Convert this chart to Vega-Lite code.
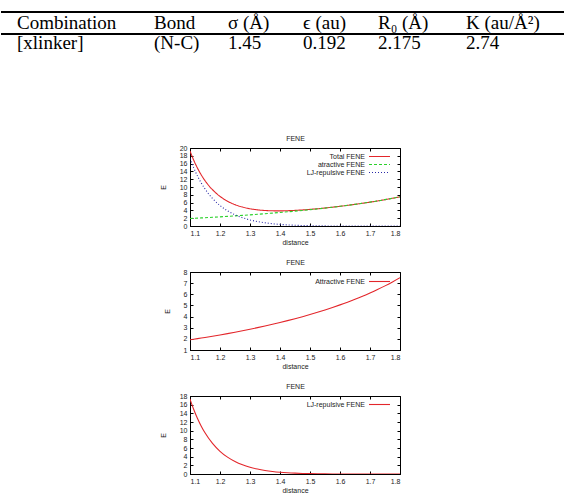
{
  "$schema": "https://vega.github.io/schema/vega-lite/v6.json",
  "padding": {"left": 0, "top": 11, "right": 0, "bottom": 0},
  "background": "white",
  "spacing": 12,
  "config": {
    "view": {"stroke": "black", "strokeWidth": 1},
    "axis": {"labelFont": "Liberation Sans", "titleFont": "Liberation Sans", "labelFontSize": 7, "titleFontSize": 7, "titleFontWeight": "normal", "labelColor": "#222", "titleColor": "#222", "domainColor": "black", "tickColor": "black", "grid": false, "minExtent": 0},
    "legend": {"labelFont": "Liberation Sans", "labelFontSize": 7, "labelColor": "#222"}
  },
  "datasets": {
    "table": [
      {"row": 0, "col": 0, "text": "Combination"},
      {"row": 0, "col": 1, "text": "Bond"},
      {"row": 0, "col": 2, "text": "σ (Å)"},
      {"row": 0, "col": 3, "text": "ϵ (au)"},
      {"row": 0, "col": 4, "text": "R₀ (Å)"},
      {"row": 0, "col": 5, "text": "K (au/Å²)"},
      {"row": 1, "col": 0, "text": "[xlinker]"},
      {"row": 1, "col": 1, "text": "(N-C)"},
      {"row": 1, "col": 2, "text": "1.45"},
      {"row": 1, "col": 3, "text": "0.192"},
      {"row": 1, "col": 4, "text": "2.175"},
      {"row": 1, "col": 5, "text": "2.74"}
    ],
    "fene": [
      {"r": 1.1, "Total FENE": 19.22, "atractive FENE": 1.915, "LJ-repulsive FENE": 17.30},
      {"r": 1.1125, "Total FENE": 16.85, "atractive FENE": 1.966, "LJ-repulsive FENE": 14.885},
      {"r": 1.125, "Total FENE": 14.83, "atractive FENE": 2.018, "LJ-repulsive FENE": 12.81},
      {"r": 1.1375, "Total FENE": 13.105, "atractive FENE": 2.071, "LJ-repulsive FENE": 11.034},
      {"r": 1.15, "Total FENE": 11.63, "atractive FENE": 2.125, "LJ-repulsive FENE": 9.506},
      {"r": 1.175, "Total FENE": 9.296, "atractive FENE": 2.237, "LJ-repulsive FENE": 7.059},
      {"r": 1.2, "Total FENE": 7.594, "atractive FENE": 2.352, "LJ-repulsive FENE": 5.242},
      {"r": 1.225, "Total FENE": 6.362, "atractive FENE": 2.473, "LJ-repulsive FENE": 3.889},
      {"r": 1.25, "Total FENE": 5.478, "atractive FENE": 2.598, "LJ-repulsive FENE": 2.880},
      {"r": 1.275, "Total FENE": 4.854, "atractive FENE": 2.729, "LJ-repulsive FENE": 2.125},
      {"r": 1.3, "Total FENE": 4.426, "atractive FENE": 2.865, "LJ-repulsive FENE": 1.561},
      {"r": 1.325, "Total FENE": 4.145, "atractive FENE": 3.006, "LJ-repulsive FENE": 1.139},
      {"r": 1.35, "Total FENE": 3.976, "atractive FENE": 3.153, "LJ-repulsive FENE": 0.823},
      {"r": 1.375, "Total FENE": 3.895, "atractive FENE": 3.307, "LJ-repulsive FENE": 0.588},
      {"r": 1.4, "Total FENE": 3.881, "atractive FENE": 3.467, "LJ-repulsive FENE": 0.414},
      {"r": 1.425, "Total FENE": 3.921, "atractive FENE": 3.635, "LJ-repulsive FENE": 0.286},
      {"r": 1.45, "Total FENE": 4.001, "atractive FENE": 3.809, "LJ-repulsive FENE": 0.192},
      {"r": 1.475, "Total FENE": 4.117, "atractive FENE": 3.992, "LJ-repulsive FENE": 0.124},
      {"r": 1.5, "Total FENE": 4.260, "atractive FENE": 4.184, "LJ-repulsive FENE": 0.077},
      {"r": 1.525, "Total FENE": 4.428, "atractive FENE": 4.384, "LJ-repulsive FENE": 0.044},
      {"r": 1.55, "Total FENE": 4.617, "atractive FENE": 4.595, "LJ-repulsive FENE": 0.022},
      {"r": 1.575, "Total FENE": 4.825, "atractive FENE": 4.816, "LJ-repulsive FENE": 0.009},
      {"r": 1.6, "Total FENE": 5.051, "atractive FENE": 5.049, "LJ-repulsive FENE": 0.002},
      {"r": 1.625, "Total FENE": 5.294, "atractive FENE": 5.294, "LJ-repulsive FENE": 0},
      {"r": 1.65, "Total FENE": 5.553, "atractive FENE": 5.553, "LJ-repulsive FENE": 0},
      {"r": 1.675, "Total FENE": 5.827, "atractive FENE": 5.827, "LJ-repulsive FENE": 0},
      {"r": 1.7, "Total FENE": 6.118, "atractive FENE": 6.118, "LJ-repulsive FENE": 0},
      {"r": 1.725, "Total FENE": 6.426, "atractive FENE": 6.426, "LJ-repulsive FENE": 0},
      {"r": 1.75, "Total FENE": 6.755, "atractive FENE": 6.755, "LJ-repulsive FENE": 0},
      {"r": 1.775, "Total FENE": 7.107, "atractive FENE": 7.107, "LJ-repulsive FENE": 0},
      {"r": 1.8, "Total FENE": 7.485, "atractive FENE": 7.485, "LJ-repulsive FENE": 0}
    ]
  },
  "vconcat": [
    {
      "width": 210,
      "height": 78,
      "layer": [
        {
          "data": {"name": "table"},
          "layer": [
            {
              "mark": {"type": "rule", "color": "black", "strokeWidth": 0.9},
              "encoding": {
                "x": {"datum": -1, "type": "quantitative"},
                "x2": {"datum": 6},
                "y": {"datum": -0.805, "type": "quantitative"}
              }
            },
            {
              "mark": {"type": "rule", "color": "black", "strokeWidth": 0.9},
              "encoding": {
                "x": {"datum": -1, "type": "quantitative"},
                "x2": {"datum": 6},
                "y": {"datum": 0.268, "type": "quantitative"}
              }
            },
            {
              "mark": {"type": "text", "align": "left", "baseline": "alphabetic", "font": "Liberation Serif", "fontSize": 19, "color": "black"},
              "encoding": {
                "x": {"field": "col", "type": "quantitative"},
                "y": {"field": "row", "type": "quantitative"},
                "text": {"field": "text"}
              }
            }
          ],
          "encoding": {
            "x": {"type": "quantitative", "scale": {"domain": [-1, 0, 1, 2, 3, 4, 5, 6], "range": [-189, -173, -36, 38, 113, 188, 276, 375]}, "axis": null},
            "y": {"type": "quantitative", "scale": {"domain": [0, 1], "range": [-119.5, -99], "nice": false, "zero": false}, "axis": null}
          }
        },
        {
          "data": {"name": "fene"},
          "layer": [
            {
              "transform": [{"fold": ["Total FENE", "atractive FENE", "LJ-repulsive FENE"], "as": ["series", "E"]}],
              "mark": {"type": "line", "strokeWidth": 1.1, "interpolate": "monotone", "clip": true},
              "encoding": {
                "x": {"field": "r", "type": "quantitative", "scale": {"domain": [1.1, 1.8], "nice": false, "zero": false},
                      "axis": {"title": "distance", "values": [1.1, 1.2, 1.3, 1.4, 1.5, 1.6, 1.7, 1.8], "format": ".1f", "tickSize": -3, "labelPadding": 6, "titlePadding": 2}},
                "y": {"field": "E", "type": "quantitative", "scale": {"domain": [0, 20], "nice": false, "zero": false},
                      "axis": {"title": "E", "values": [0, 2, 4, 6, 8, 10, 12, 14, 16, 18, 20], "tickSize": -3, "labelPadding": 6, "titlePadding": 13}},
                "color": {"field": "series", "type": "nominal", "sort": null,
                          "scale": {"domain": ["Total FENE", "atractive FENE", "LJ-repulsive FENE"], "range": ["#e3262b", "#2bd12b", "#2a2aa8"]},
                          "legend": {"title": null, "orient": "none", "legendX": 185, "legendY": 4, "symbolType": "M-3,0H3", "symbolSize": 49, "symbolStrokeWidth": 1.1, "symbolFillColor": "transparent", "labelAlign": "right", "labelOffset": -19, "rowPadding": 0,
                                     "encode": {"symbols": {"update": {"strokeDash": {"signal": "datum.value == 'atractive FENE' ? [3, 2] : datum.value == 'LJ-repulsive FENE' ? [1, 2] : [1, 0]"}}}}}},
                "strokeDash": {"field": "series", "type": "nominal", "sort": null,
                          "scale": {"domain": ["Total FENE", "atractive FENE", "LJ-repulsive FENE"], "range": [[1, 0], [3, 2], [1, 2]]},
                          "legend": null}
              }
            },
            {
              "mark": {"type": "point", "opacity": 0},
              "encoding": {
                "x": {"field": "r", "type": "quantitative", "axis": {"orient": "top", "labels": false, "title": "FENE", "titlePadding": 6, "domain": false, "values": [1.1, 1.2, 1.3, 1.4, 1.5, 1.6, 1.7, 1.8], "tickSize": -3}},
                "y": {"field": "Total FENE", "type": "quantitative", "axis": {"orient": "right", "labels": false, "title": null, "domain": false, "values": [0, 2, 4, 6, 8, 10, 12, 14, 16, 18, 20], "tickSize": -3}}
              }
            }
          ],
          "resolve": {"axis": {"x": "independent", "y": "independent"}}
        }
      ],
      "resolve": {"scale": {"x": "independent", "y": "independent"}}
    },
    {
      "width": 210,
      "height": 78,
      "data": {"name": "fene"},
      "layer": [
        {
          "mark": {"type": "line", "strokeWidth": 1.1, "interpolate": "monotone", "clip": true},
          "encoding": {
            "x": {"field": "r", "type": "quantitative", "scale": {"domain": [1.1, 1.8], "nice": false, "zero": false},
                  "axis": {"title": "distance", "values": [1.1, 1.2, 1.3, 1.4, 1.5, 1.6, 1.7, 1.8], "format": ".1f", "tickSize": -3, "labelPadding": 6, "titlePadding": 2}},
            "y": {"field": "atractive FENE", "type": "quantitative", "scale": {"domain": [1, 8], "nice": false, "zero": false},
                  "axis": {"title": "E", "values": [1, 2, 3, 4, 5, 6, 7, 8], "tickSize": -3, "labelPadding": 6, "titlePadding": 13}},
            "color": {"datum": "Attractive FENE", "type": "nominal",
                      "scale": {"range": ["#e3262b"]},
                      "legend": {"title": null, "orient": "none", "legendX": 185, "legendY": 5, "symbolType": "M-3,0H3", "symbolSize": 49, "symbolStrokeWidth": 1.1, "symbolFillColor": "transparent", "labelAlign": "right", "labelOffset": -19, "rowPadding": 0}}
          }
        },
        {
          "mark": {"type": "point", "opacity": 0},
          "encoding": {
            "x": {"field": "r", "type": "quantitative", "axis": {"orient": "top", "labels": false, "title": "FENE", "titlePadding": 6, "domain": false, "values": [1.1, 1.2, 1.3, 1.4, 1.5, 1.6, 1.7, 1.8], "tickSize": -3}},
            "y": {"field": "atractive FENE", "type": "quantitative", "axis": {"orient": "right", "labels": false, "title": null, "domain": false, "values": [1, 2, 3, 4, 5, 6, 7, 8], "tickSize": -3}}
          }
        }
      ],
      "resolve": {"axis": {"x": "independent", "y": "independent"}}
    },
    {
      "width": 210,
      "height": 78,
      "data": {"name": "fene"},
      "layer": [
        {
          "mark": {"type": "line", "strokeWidth": 1.1, "interpolate": "monotone", "clip": true},
          "encoding": {
            "x": {"field": "r", "type": "quantitative", "scale": {"domain": [1.1, 1.8], "nice": false, "zero": false},
                  "axis": {"title": "distance", "values": [1.1, 1.2, 1.3, 1.4, 1.5, 1.6, 1.7, 1.8], "format": ".1f", "tickSize": -3, "labelPadding": 6, "titlePadding": 2}},
            "y": {"field": "LJ-repulsive FENE", "type": "quantitative", "scale": {"domain": [0, 18], "nice": false, "zero": false},
                  "axis": {"title": "E", "values": [0, 2, 4, 6, 8, 10, 12, 14, 16, 18], "tickSize": -3, "labelPadding": 6, "titlePadding": 13}},
            "color": {"datum": "LJ-repulsive FENE", "type": "nominal",
                      "scale": {"range": ["#e3262b"]},
                      "legend": {"title": null, "orient": "none", "legendX": 185, "legendY": 4, "symbolType": "M-3,0H3", "symbolSize": 49, "symbolStrokeWidth": 1.1, "symbolFillColor": "transparent", "labelAlign": "right", "labelOffset": -19, "rowPadding": 0}}
          }
        },
        {
          "mark": {"type": "point", "opacity": 0},
          "encoding": {
            "x": {"field": "r", "type": "quantitative", "axis": {"orient": "top", "labels": false, "title": "FENE", "titlePadding": 6, "domain": false, "values": [1.1, 1.2, 1.3, 1.4, 1.5, 1.6, 1.7, 1.8], "tickSize": -3}},
            "y": {"field": "LJ-repulsive FENE", "type": "quantitative", "axis": {"orient": "right", "labels": false, "title": null, "domain": false, "values": [0, 2, 4, 6, 8, 10, 12, 14, 16, 18], "tickSize": -3}}
          }
        }
      ],
      "resolve": {"axis": {"x": "independent", "y": "independent"}}
    }
  ],
  "resolve": {"scale": {"color": "independent", "strokeDash": "independent"}}
}
